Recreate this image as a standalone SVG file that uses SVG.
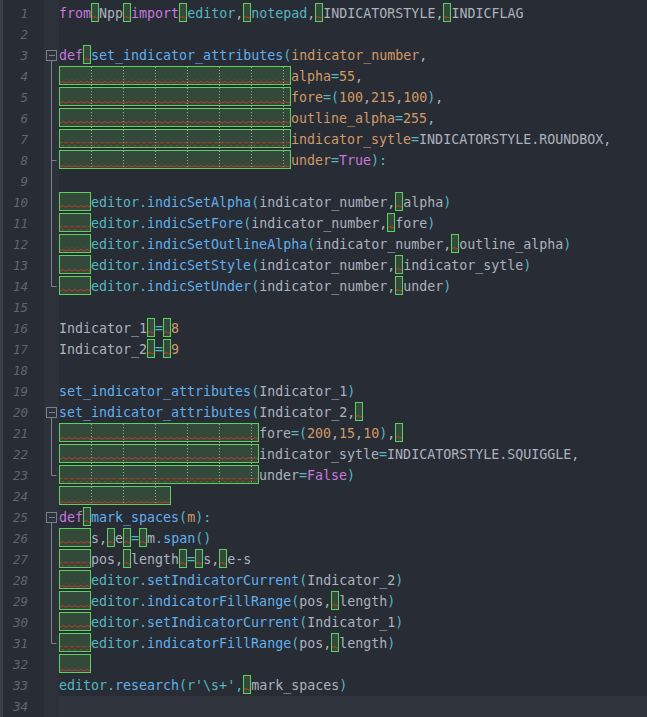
<svg xmlns="http://www.w3.org/2000/svg" xmlns:xlink="http://www.w3.org/1999/xlink" width="647" height="717" viewBox="0 0 647 717">
<style>
text{font-family:"DejaVu Sans Mono","Liberation Mono",monospace;font-size:13.3px;white-space:pre}
.ln{fill:#5f6673;font-style:italic;text-anchor:end;font-size:12.5px}
.k{fill:#c678dd}.f{fill:#61afef}.i{fill:#abb2bf}.p{fill:#d19a66}.o{fill:#56b6c2}
.bx{fill:#33493a;stroke:#5fcf5f;stroke-width:1}
.sq{fill:url(#zz)}
.tab{stroke:#9aa79a;stroke-width:1;stroke-dasharray:1,2}
.fold{fill:none;stroke:#7b818c;stroke-width:1}
</style>
<defs>
<pattern id="zz" patternUnits="userSpaceOnUse" width="6" height="4"><path d="M0,3 L3,1.5 L6,3" fill="none" stroke="#c0392b" stroke-width="1"/></pattern>
<g id="sp"><rect class="bx" x="0.5" y="0.5" width="7" height="18"/><rect class="sq" x="1" y="13" width="6" height="4"/></g>
</defs>
<rect width="647" height="717" fill="#282c34"/>
<rect x="0" y="0" width="3" height="717" fill="#3b3f47"/>
<rect x="44" y="0" width="15" height="717" fill="#2d3139"/>
<rect x="59" y="696" width="588" height="21" fill="#31353d"/>
<g id="linenumbers">
<text class="ln" x="28" y="18">1</text><text class="ln" x="28" y="39">2</text><text class="ln" x="28" y="60">3</text><text class="ln" x="28" y="81">4</text><text class="ln" x="28" y="102">5</text><text class="ln" x="28" y="123">6</text><text class="ln" x="28" y="144">7</text><text class="ln" x="28" y="165">8</text><text class="ln" x="28" y="186">9</text><text class="ln" x="28" y="207">10</text><text class="ln" x="28" y="228">11</text><text class="ln" x="28" y="249">12</text><text class="ln" x="28" y="270">13</text><text class="ln" x="28" y="291">14</text><text class="ln" x="28" y="312">15</text><text class="ln" x="28" y="333">16</text><text class="ln" x="28" y="354">17</text><text class="ln" x="28" y="375">18</text><text class="ln" x="28" y="396">19</text><text class="ln" x="28" y="417">20</text><text class="ln" x="28" y="438">21</text><text class="ln" x="28" y="459">22</text><text class="ln" x="28" y="480">23</text><text class="ln" x="28" y="501">24</text><text class="ln" x="28" y="522">25</text><text class="ln" x="28" y="543">26</text><text class="ln" x="28" y="564">27</text><text class="ln" x="28" y="585">28</text><text class="ln" x="28" y="606">29</text><text class="ln" x="28" y="627">30</text><text class="ln" x="28" y="648">31</text><text class="ln" x="28" y="669">32</text><text class="ln" x="28" y="690">33</text><text class="ln" x="28" y="711">34</text>
</g>
<g id="folds">
<rect class="fold" x="46.5" y="50.5" width="10" height="10"/><path class="fold" d="M49,55.5h6M51.5,60.5V286.5h5M51.5,160.5h5"/>
<rect class="fold" x="46.5" y="407.5" width="10" height="10"/><path class="fold" d="M49,412.5h6M51.5,417.5V475.5h5"/>
<rect class="fold" x="46.5" y="512.5" width="10" height="10"/><path class="fold" d="M49,517.5h6M51.5,522.5V643.5h5"/>
</g>
<g id="indents">
<g><rect class="bx" x="59.5" y="66.5" width="231" height="18"/><rect class="sq" x="60" y="79" width="230" height="4"/></g>
<g><rect class="bx" x="59.5" y="87.5" width="231" height="18"/><rect class="sq" x="60" y="100" width="230" height="4"/></g>
<g><rect class="bx" x="59.5" y="108.5" width="231" height="18"/><rect class="sq" x="60" y="121" width="230" height="4"/></g>
<g><rect class="bx" x="59.5" y="129.5" width="231" height="18"/><rect class="sq" x="60" y="142" width="230" height="4"/></g>
<g><rect class="bx" x="59.5" y="150.5" width="231" height="18"/><rect class="sq" x="60" y="163" width="230" height="4"/></g>
<path class="tab" d="M91.5,67V169M123.5,67V169M155.5,67V169M187.5,67V169M219.5,67V169M251.5,67V169M283.5,67V169"/>
<g><rect class="bx" x="59.5" y="423.5" width="199" height="18"/><rect class="sq" x="60" y="436" width="198" height="4"/></g>
<g><rect class="bx" x="59.5" y="444.5" width="199" height="18"/><rect class="sq" x="60" y="457" width="198" height="4"/></g>
<g><rect class="bx" x="59.5" y="465.5" width="199" height="18"/><rect class="sq" x="60" y="478" width="198" height="4"/></g>
<g><rect class="bx" x="59.5" y="486.5" width="111" height="18"/><rect class="sq" x="60" y="499" width="110" height="4"/></g>
<path class="tab" d="M91.5,424V505M123.5,424V505M155.5,424V505M187.5,424V484M219.5,424V484M251.5,424V484"/>
<g id="tabs4">
<g><rect class="bx" x="59.5" y="192.5" width="31" height="18"/><rect class="sq" x="60" y="205" width="30" height="4"/></g>
<g><rect class="bx" x="59.5" y="213.5" width="31" height="18"/><rect class="sq" x="60" y="226" width="30" height="4"/></g>
<g><rect class="bx" x="59.5" y="234.5" width="31" height="18"/><rect class="sq" x="60" y="247" width="30" height="4"/></g>
<g><rect class="bx" x="59.5" y="255.5" width="31" height="18"/><rect class="sq" x="60" y="268" width="30" height="4"/></g>
<g><rect class="bx" x="59.5" y="276.5" width="31" height="18"/><rect class="sq" x="60" y="289" width="30" height="4"/></g>
<g><rect class="bx" x="59.5" y="528.5" width="31" height="18"/><rect class="sq" x="60" y="541" width="30" height="4"/></g>
<g><rect class="bx" x="59.5" y="549.5" width="31" height="18"/><rect class="sq" x="60" y="562" width="30" height="4"/></g>
<g><rect class="bx" x="59.5" y="570.5" width="31" height="18"/><rect class="sq" x="60" y="583" width="30" height="4"/></g>
<g><rect class="bx" x="59.5" y="591.5" width="31" height="18"/><rect class="sq" x="60" y="604" width="30" height="4"/></g>
<g><rect class="bx" x="59.5" y="612.5" width="31" height="18"/><rect class="sq" x="60" y="625" width="30" height="4"/></g>
<g><rect class="bx" x="59.5" y="633.5" width="31" height="18"/><rect class="sq" x="60" y="646" width="30" height="4"/></g>
<g><rect class="bx" x="59.5" y="654.5" width="31" height="18"/><rect class="sq" x="60" y="667" width="30" height="4"/></g>
</g>
</g>
<g id="spaces">
<use xlink:href="#sp" x="91" y="3"/><use xlink:href="#sp" x="123" y="3"/><use xlink:href="#sp" x="179" y="3"/><use xlink:href="#sp" x="243" y="3"/><use xlink:href="#sp" x="315" y="3"/><use xlink:href="#sp" x="443" y="3"/>
<use xlink:href="#sp" x="83" y="45"/>
<use xlink:href="#sp" x="395" y="192"/><use xlink:href="#sp" x="387" y="213"/><use xlink:href="#sp" x="451" y="234"/><use xlink:href="#sp" x="395" y="255"/><use xlink:href="#sp" x="395" y="276"/>
<use xlink:href="#sp" x="147" y="318"/><use xlink:href="#sp" x="163" y="318"/>
<use xlink:href="#sp" x="147" y="339"/><use xlink:href="#sp" x="163" y="339"/>
<use xlink:href="#sp" x="355" y="402"/>
<use xlink:href="#sp" x="395" y="423"/>
<use xlink:href="#sp" x="83" y="507"/>
<use xlink:href="#sp" x="107" y="528"/><use xlink:href="#sp" x="123" y="528"/><use xlink:href="#sp" x="139" y="528"/>
<use xlink:href="#sp" x="123" y="549"/><use xlink:href="#sp" x="179" y="549"/><use xlink:href="#sp" x="195" y="549"/><use xlink:href="#sp" x="219" y="549"/>
<use xlink:href="#sp" x="331" y="591"/><use xlink:href="#sp" x="331" y="633"/>
<use xlink:href="#sp" x="243" y="675"/>
</g>
<g id="code">
<text x="59" y="18"><tspan class="k">from</tspan> <tspan class="i">Npp</tspan> <tspan class="k">import</tspan> <tspan class="o">editor</tspan><tspan class="i">,</tspan> <tspan class="o">notepad</tspan><tspan class="i">,</tspan> <tspan class="i">INDICATORSTYLE,</tspan> <tspan class="i">INDICFLAG</tspan></text>
<text x="59" y="60"><tspan class="k">def</tspan> <tspan class="f">set_indicator_attributes</tspan><tspan class="o">(</tspan><tspan class="p">indicator_number</tspan><tspan class="i">,</tspan></text>
<text x="291" y="81"><tspan class="p">alpha</tspan><tspan class="o">=</tspan><tspan class="p">55</tspan><tspan class="i">,</tspan></text>
<text x="291" y="102"><tspan class="p">fore</tspan><tspan class="o">=(</tspan><tspan class="p">100</tspan><tspan class="i">,</tspan><tspan class="p">215</tspan><tspan class="i">,</tspan><tspan class="p">100</tspan><tspan class="o">)</tspan><tspan class="i">,</tspan></text>
<text x="291" y="123"><tspan class="p">outline_alpha</tspan><tspan class="o">=</tspan><tspan class="p">255</tspan><tspan class="i">,</tspan></text>
<text x="291" y="144"><tspan class="p">indicator_sytle</tspan><tspan class="o">=</tspan><tspan class="i">INDICATORSTYLE.ROUNDBOX,</tspan></text>
<text x="291" y="165"><tspan class="p">under</tspan><tspan class="o">=</tspan><tspan class="k">True</tspan><tspan class="o">):</tspan></text>
<text x="91" y="207"><tspan class="o">editor.</tspan><tspan class="f">indicSetAlpha</tspan><tspan class="o">(</tspan><tspan class="i">indicator_number, alpha</tspan><tspan class="o">)</tspan></text>
<text x="91" y="228"><tspan class="o">editor.</tspan><tspan class="f">indicSetFore</tspan><tspan class="o">(</tspan><tspan class="i">indicator_number, fore</tspan><tspan class="o">)</tspan></text>
<text x="91" y="249"><tspan class="o">editor.</tspan><tspan class="f">indicSetOutlineAlpha</tspan><tspan class="o">(</tspan><tspan class="i">indicator_number, outline_alpha</tspan><tspan class="o">)</tspan></text>
<text x="91" y="270"><tspan class="o">editor.</tspan><tspan class="f">indicSetStyle</tspan><tspan class="o">(</tspan><tspan class="i">indicator_number, indicator_sytle</tspan><tspan class="o">)</tspan></text>
<text x="91" y="291"><tspan class="o">editor.</tspan><tspan class="f">indicSetUnder</tspan><tspan class="o">(</tspan><tspan class="i">indicator_number, under</tspan><tspan class="o">)</tspan></text>
<text x="59" y="333"><tspan class="i">Indicator_1</tspan> <tspan class="o">=</tspan> <tspan class="p">8</tspan></text>
<text x="59" y="354"><tspan class="i">Indicator_2</tspan> <tspan class="o">=</tspan> <tspan class="p">9</tspan></text>
<text x="59" y="396"><tspan class="f">set_indicator_attributes</tspan><tspan class="o">(</tspan><tspan class="i">Indicator_1</tspan><tspan class="o">)</tspan></text>
<text x="59" y="417"><tspan class="f">set_indicator_attributes</tspan><tspan class="o">(</tspan><tspan class="i">Indicator_2,</tspan></text>
<text x="259" y="438"><tspan class="i">fore</tspan><tspan class="o">=(</tspan><tspan class="p">200</tspan><tspan class="i">,</tspan><tspan class="p">15</tspan><tspan class="i">,</tspan><tspan class="p">10</tspan><tspan class="o">)</tspan><tspan class="i">,</tspan></text>
<text x="259" y="459"><tspan class="i">indicator_sytle</tspan><tspan class="o">=</tspan><tspan class="i">INDICATORSTYLE.SQUIGGLE,</tspan></text>
<text x="259" y="480"><tspan class="i">under</tspan><tspan class="o">=</tspan><tspan class="k">False</tspan><tspan class="o">)</tspan></text>
<text x="59" y="522"><tspan class="k">def</tspan> <tspan class="f">mark_spaces</tspan><tspan class="o">(</tspan><tspan class="p">m</tspan><tspan class="o">):</tspan></text>
<text x="91" y="543"><tspan class="i">s,</tspan> <tspan class="i">e</tspan> <tspan class="o">=</tspan> <tspan class="i">m</tspan><tspan class="o">.</tspan><tspan class="f">span</tspan><tspan class="o">()</tspan></text>
<text x="91" y="564"><tspan class="i">pos,</tspan> <tspan class="i">length</tspan> <tspan class="o">=</tspan> <tspan class="i">s,</tspan> <tspan class="i">e-s</tspan></text>
<text x="91" y="585"><tspan class="o">editor.</tspan><tspan class="f">setIndicatorCurrent</tspan><tspan class="o">(</tspan><tspan class="i">Indicator_2</tspan><tspan class="o">)</tspan></text>
<text x="91" y="606"><tspan class="o">editor.</tspan><tspan class="f">indicatorFillRange</tspan><tspan class="o">(</tspan><tspan class="i">pos, length</tspan><tspan class="o">)</tspan></text>
<text x="91" y="627"><tspan class="o">editor.</tspan><tspan class="f">setIndicatorCurrent</tspan><tspan class="o">(</tspan><tspan class="i">Indicator_1</tspan><tspan class="o">)</tspan></text>
<text x="91" y="648"><tspan class="o">editor.</tspan><tspan class="f">indicatorFillRange</tspan><tspan class="o">(</tspan><tspan class="i">pos, length</tspan><tspan class="o">)</tspan></text>
<text x="59" y="690"><tspan class="o">editor.</tspan><tspan class="f">research</tspan><tspan class="o">(r'\s+',</tspan> <tspan class="i">mark_spaces</tspan><tspan class="o">)</tspan></text>
</g>
</svg>
